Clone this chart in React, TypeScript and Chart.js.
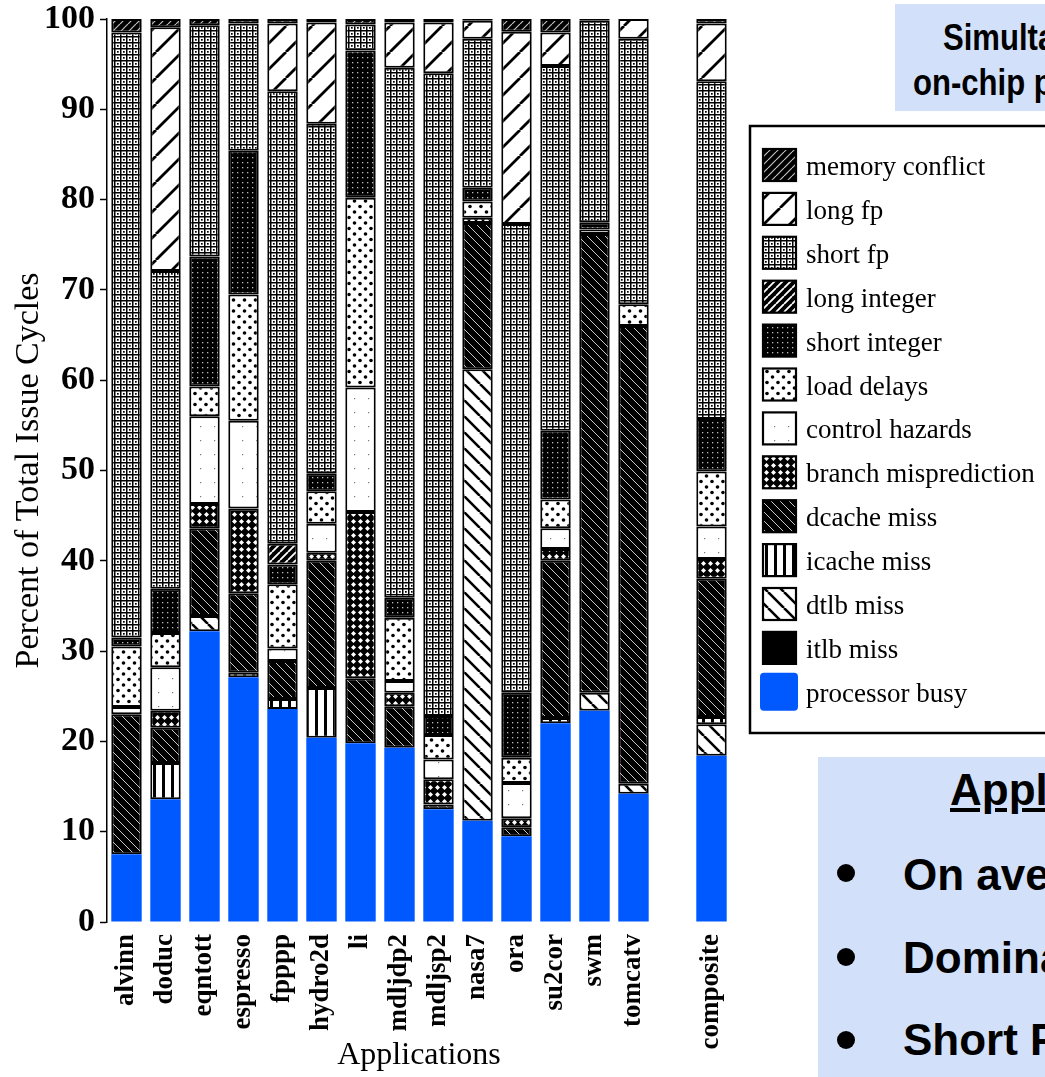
import React, { useEffect, useRef } from 'react';
import { Chart, registerables } from 'chart.js';

Chart.register(...registerables);

// ---------------- data ----------------
const applications = ['alvinn', 'doduc', 'eqntott', 'espresso', 'fpppp', 'hydro2d', 'li', 'mdljdp2', 'mdljsp2', 'nasa7', 'ora', 'su2cor', 'swm', 'tomcatv', '', 'composite'];

// percent of total issue cycles, stacked bottom -> top
const processorBusy =       [7.5, 13.6, 32.2, 27.1, 23.6, 20.4, 19.8, 19.3, 12.5, 11.2, 9.5, 22.0, 23.4, 14.2, 0, 18.4];
const itlbMiss =            [0, 0, 0, 0, 0, 0, 0, 0, 0, 0, 0, 0, 0, 0, 0, 0];
const dtlbMiss =            [0, 0, 1.7, 0, 0, 0, 0, 0, 0, 50.0, 0, 0, 2.0, 1.1, 0, 3.5];
const icacheMiss =          [0, 4.0, 0, 0.5, 1.1, 5.5, 0, 0, 0, 0, 0, 0.6, 0, 0, 0, 0.8];
const dcacheMiss =          [15.5, 3.9, 9.7, 8.8, 4.2, 14.1, 7.2, 4.6, 0.5, 16.2, 1.0, 17.4, 50.8, 50.7, 0, 15.3];
const branchMisprediction = [0, 1.9, 2.7, 9.4, 0, 0.9, 18.4, 1.5, 2.8, 0.6, 1.0, 1.3, 0, 0, 0, 2.2];
const controlHazards =      [0.8, 4.8, 9.7, 9.7, 1.4, 3.2, 13.8, 1.3, 2.2, 0, 3.9, 2.3, 0, 0, 0, 3.6];
const loadDelays =          [6.7, 3.8, 3.3, 14.0, 7.1, 3.6, 21.0, 7.0, 2.7, 1.8, 2.8, 3.2, 0.5, 2.4, 0, 6.1];
const shortInteger =        [1.0, 4.9, 14.4, 15.9, 2.2, 2.0, 16.3, 2.2, 2.1, 1.5, 7.2, 7.6, 0.8, 0, 0, 5.8];
const longInteger =         [0, 0, 0, 0, 2.3, 0, 0, 0, 0, 0, 0, 0, 0, 0, 0, 0];
const shortFp =             [67.0, 35.2, 25.6, 14.1, 50.1, 38.7, 2.9, 58.7, 71.2, 16.5, 51.9, 40.4, 22.3, 29.4, 0, 37.4];
const longFp =              [0, 27.0, 0, 0, 7.5, 11.2, 0, 5.0, 5.6, 2.0, 21.3, 3.7, 0, 2.2, 0, 6.4];
const memoryConflict =      [1.5, 0.9, 0.7, 0.5, 0.5, 0.4, 0.6, 0.4, 0.4, 0.2, 1.4, 1.5, 0.2, 0, 0, 0.5];

const yTicks = [0, 10, 20, 30, 40, 50, 60, 70, 80, 90, 100];

const SERIF = '"Liberation Serif", "Times New Roman", serif';
const SANS = '"Liberation Sans", Arial, sans-serif';
const BLUE = '#0058ff';
const SLIDE_BG = '#d2e0f9';

// ---------------- patterns ----------------
function tile(w: number, h: number, draw: (g: CanvasRenderingContext2D) => void): CanvasPattern | string {
  const c = document.createElement('canvas');
  c.width = w;
  c.height = h;
  const g = c.getContext('2d')!;
  draw(g);
  return g.createPattern(c, 'repeat') || '#888';
}

function diag(g: CanvasRenderingContext2D, s: number, dir: '/' | '\\', color: string, lw: number) {
  g.strokeStyle = color;
  g.lineWidth = lw;
  g.beginPath();
  for (let o = -s; o <= s; o += s) {
    if (dir === '/') {
      g.moveTo(o, s);
      g.lineTo(o + s, 0);
    } else {
      g.moveTo(o, 0);
      g.lineTo(o + s, s);
    }
  }
  g.stroke();
}

function makeFills() {
  return {
    memory: tile(8, 8, (g) => { g.fillStyle = '#000'; g.fillRect(0, 0, 8, 8); diag(g, 8, '/', 'rgba(255,255,255,0.75)', 1.2); }),
    longFp: tile(26, 26, (g) => { g.fillStyle = '#fff'; g.fillRect(0, 0, 26, 26); diag(g, 26, '/', '#000', 2.8); }),
    shortFp: tile(6, 6, (g) => {
      g.fillStyle = '#fff'; g.fillRect(0, 0, 6, 6);
      g.fillStyle = '#000'; g.fillRect(0, 0, 6, 1.5); g.fillRect(0, 0, 1.5, 6); g.fillRect(3, 3, 1.7, 1.7);
    }),
    longInt: tile(8, 8, (g) => { g.fillStyle = '#000'; g.fillRect(0, 0, 8, 8); diag(g, 8, '/', '#fff', 1.8); }),
    shortInt: tile(5, 5, (g) => { g.fillStyle = '#000'; g.fillRect(0, 0, 5, 5); g.fillStyle = '#bbb'; g.fillRect(2, 2, 1.3, 1.3); }),
    load: tile(11, 11, (g) => {
      g.fillStyle = '#fff'; g.fillRect(0, 0, 11, 11);
      g.fillStyle = '#000';
      g.beginPath(); g.arc(2.5, 3, 1.8, 0, Math.PI * 2); g.fill();
      g.beginPath(); g.arc(8, 8.5, 1.8, 0, Math.PI * 2); g.fill();
    }),
    control: tile(14, 14, (g) => { g.fillStyle = '#fff'; g.fillRect(0, 0, 14, 14); g.fillStyle = '#777'; g.fillRect(4, 6, 1.2, 1.2); }),
    branch: tile(7, 7, (g) => {
      g.fillStyle = '#000'; g.fillRect(0, 0, 7, 7);
      g.fillStyle = '#fff';
      g.beginPath(); g.moveTo(3.5, 1); g.lineTo(6, 3.5); g.lineTo(3.5, 6); g.lineTo(1, 3.5); g.closePath(); g.fill();
    }),
    dcache: tile(9, 9, (g) => { g.fillStyle = '#000'; g.fillRect(0, 0, 9, 9); diag(g, 9, '\\', '#c8c8c8', 1); }),
    icache: tile(9, 4, (g) => { g.fillStyle = '#fff'; g.fillRect(0, 0, 9, 4); g.fillStyle = '#000'; g.fillRect(0, 0, 3, 4); }),
    dtlb: tile(16, 16, (g) => { g.fillStyle = '#fff'; g.fillRect(0, 0, 16, 16); diag(g, 16, '\\', '#000', 2.6); }),
    itlb: '#000',
    busy: BLUE,
  };
}

// ---------------- legend plugin ----------------
const boxLegend = {
  id: 'boxLegend',
  afterDraw(chart: any) {
    const ctx: CanvasRenderingContext2D = chart.ctx;
    const ds = chart.data.datasets;
    ctx.save();
    ctx.strokeStyle = '#000';
    ctx.lineWidth = 2.5;
    ctx.strokeRect(750, 126, 400, 607);
    ctx.font = `27px ${SERIF}`;
    ctx.textBaseline = 'alphabetic';
    ctx.textAlign = 'left';
    for (let k = 0; k < ds.length; k++) {
      const d = ds[ds.length - 1 - k];
      const cy = 165 + k * 43.9;
      const x = 763;
      const y = cy - 16;
      ctx.fillStyle = d.backgroundColor;
      if (d.label === 'processor busy') {
        ctx.beginPath();
        (ctx as any).roundRect(x - 3, y - 3, 38, 38, 4);
        ctx.fill();
      } else {
        ctx.fillRect(x, y, 33, 32);
        ctx.lineWidth = 2.2;
        ctx.strokeRect(x, y, 33, 32);
      }
      ctx.fillStyle = '#000';
      ctx.fillText(d.label, 806, cy + 10);
    }
    ctx.restore();
  },
};

export default function App() {
  const ref = useRef<HTMLCanvasElement>(null);

  useEffect(() => {
    document.body.style.margin = '0';
    const canvas = ref.current!;
    const f = makeFills();
    const series: [string, number[], any][] = [
      ['processor busy', processorBusy, f.busy],
      ['itlb miss', itlbMiss, f.itlb],
      ['dtlb miss', dtlbMiss, f.dtlb],
      ['icache miss', icacheMiss, f.icache],
      ['dcache miss', dcacheMiss, f.dcache],
      ['branch misprediction', branchMisprediction, f.branch],
      ['control hazards', controlHazards, f.control],
      ['load delays', loadDelays, f.load],
      ['short integer', shortInteger, f.shortInt],
      ['long integer', longInteger, f.longInt],
      ['short fp', shortFp, f.shortFp],
      ['long fp', longFp, f.longFp],
      ['memory conflict', memoryConflict, f.memory],
    ];
    const chart = new Chart(canvas, {
      type: 'bar',
      data: {
        labels: applications,
        datasets: series.map(([label, values, fill]) => ({
          label,
          data: values.map((v) => (v > 0 ? v : null)),
          backgroundColor: fill,
          borderColor: '#000',
          borderWidth: label === 'processor busy' ? 0 : 2,
          borderSkipped: false,
          borderRadius: label === 'processor busy' ? 4 : 0,
          barPercentage: 0.78,
          categoryPercentage: 1,
        })),
      },
      options: {
        responsive: false,
        animation: false,
        devicePixelRatio: 1,
        layout: { padding: { left: 0, top: 19, right: 314, bottom: 0 } },
        plugins: { legend: { display: false }, tooltip: { enabled: false }, title: { display: false } },
        scales: {
          x: {
            stacked: true,
            grid: { display: false, drawTicks: false },
            border: { display: false },
            ticks: {
              autoSkip: false,
              minRotation: 90,
              maxRotation: 90,
              padding: 12,
              color: '#000',
              font: { family: SERIF, weight: 'bold', size: 27 },
            },
            title: {
              display: true,
              text: 'Applications',
              color: '#000',
              font: { family: SERIF, size: 32 },
              padding: { top: 4, bottom: 2 },
            },
            afterFit: (s: any) => { s.height = 155; },
          },
          y: {
            stacked: true,
            min: 0,
            max: 100,
            afterBuildTicks: (s: any) => { s.ticks = yTicks.map((v) => ({ value: v })); },
            ticks: {
              padding: 5,
              color: '#000',
              font: { family: SERIF, weight: 'bold', size: 34, lineHeight: 0.7 },
            },
            grid: { drawOnChartArea: false, drawTicks: true, tickLength: 7, tickColor: '#000', tickWidth: 1.5 },
            border: { display: true, color: '#000', width: 1.5 },
            title: {
              display: true,
              text: 'Percent of Total Issue Cycles',
              color: '#000',
              font: { family: SERIF, size: 34 },
              padding: { top: 9, bottom: 4 },
            },
            afterFit: (s: any) => { s.width = 107; },
          },
        },
      } as any,
      plugins: [boxLegend],
    });
    return () => chart.destroy();
  }, []);

  const line = (text: string, left: number, top: number, size: number, extra: React.CSSProperties = {}) => (
    <div
      style={{
        position: 'absolute', left, top, whiteSpace: 'nowrap', fontFamily: SANS, fontWeight: 'bold',
        fontSize: size, lineHeight: `${size}px`, color: '#000', ...extra,
      }}
    >
      {text}
    </div>
  );

  return (
    <div style={{ position: 'fixed', left: 0, top: 0, width: 1045, height: 1077, overflow: 'hidden', background: '#fff' }}>
      <canvas ref={ref} width={1045} height={1077} style={{ position: 'absolute', left: 0, top: 0, width: 1045, height: 1077 }} />
      <div style={{ position: 'absolute', left: 895, top: 4, width: 200, height: 107, background: SLIDE_BG }} />
      {line('Simultaneous Multithreading: Maximizing', 943, 19, 37, { transform: 'scaleX(0.84)', transformOrigin: 'left' })}
      {line('on-chip parallelism', 913, 64, 37, { transform: 'scaleX(0.84)', transformOrigin: 'left' })}
      <div style={{ position: 'absolute', left: 818, top: 757, width: 260, height: 330, background: SLIDE_BG }} />
      {line('Applications', 950, 768, 44, { textDecoration: 'underline' })}
      {[873, 957, 1040].map((cy) => (
        <div key={cy} style={{ position: 'absolute', left: 837, top: cy - 9, width: 18, height: 18, borderRadius: 9, background: '#000' }} />
      ))}
      {line('On average 18% processor busy', 903, 853, 44)}
      {line('Dominant waste differs by application', 903, 936, 44)}
      {line('Short FP dependences is largest culprit', 903, 1018, 44)}
    </div>
  );
}
